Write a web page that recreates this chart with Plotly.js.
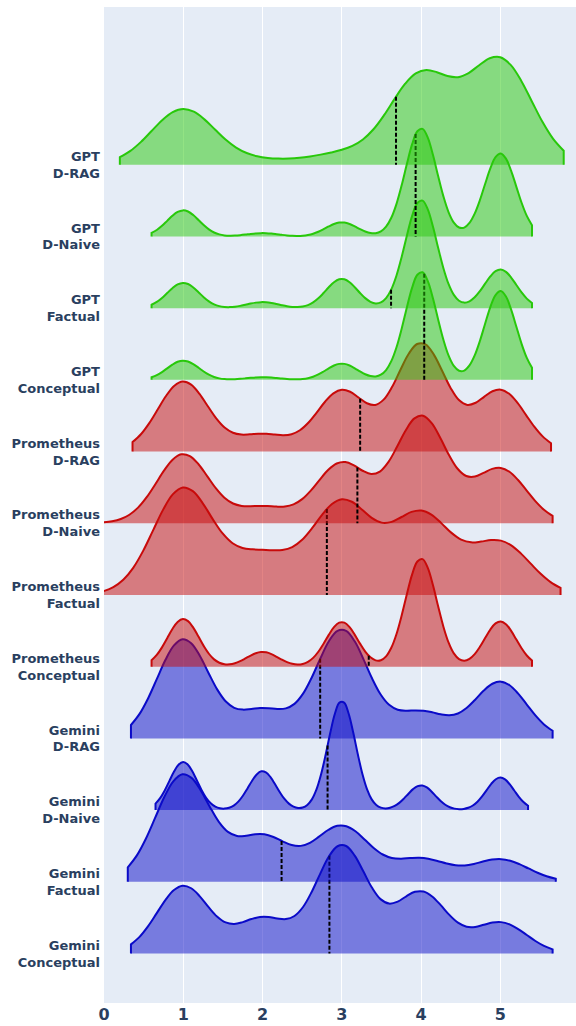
<!DOCTYPE html>
<html>
<head>
<meta charset="utf-8">
<script src="https://cdn.plot.ly/plotly-3.0.1.min.js"></script>
<style>html,body{margin:0;padding:0;background:#fff;}</style>
</head>
<body>
<div id="chart" style="width:576px;height:1026px;"></div>
<script>
// Score levels (0 = rare unparsed/zero scores)
const scores = [0, 1, 2, 3, 4, 5];

// Category labels, bottom to top
const categories = [
  'Gemini<br>Conceptual', 'Gemini<br>Factual', 'Gemini<br>D-Naive', 'Gemini<br>D-RAG',
  'Prometheus<br>Conceptual', 'Prometheus<br>Factual', 'Prometheus<br>D-Naive', 'Prometheus<br>D-RAG',
  'GPT<br>Conceptual', 'GPT<br>Factual', 'GPT<br>D-Naive', 'GPT<br>D-RAG'
];
const models = ['Gemini','Gemini','Gemini','Gemini','Prometheus','Prometheus','Prometheus','Prometheus','GPT','GPT','GPT','GPT'];

// Counts of each score (0..5) per category
const geminiConceptual   = [0, 199, 103, 318, 180, 91];
const geminiFactual      = [0, 321, 135, 166, 68, 67];
const geminiDNaive       = [0, 142, 115, 322, 73, 96];
const geminiDRAG         = [0, 294, 84, 322, 78, 168];
const prometheusConceptual = [0, 142, 44, 133, 322, 135];
const prometheusFactual  = [2, 319, 117, 276, 240, 156];
const prometheusDNaive   = [1, 207, 48, 180, 320, 163];
const prometheusDRAG     = [0, 207, 50, 180, 319, 181];
const gptConceptual      = [0, 57, 8, 48, 320, 263];
const gptFactual         = [0, 75, 18, 87, 321, 115];
const gptDNaive          = [0, 78, 10, 42, 323, 248];
const gptDRAG            = [0, 169, 14, 33, 270, 315];

const countsList = [geminiConceptual, geminiFactual, geminiDNaive, geminiDRAG,
  prometheusConceptual, prometheusFactual, prometheusDNaive, prometheusDRAG,
  gptConceptual, gptFactual, gptDNaive, gptDRAG];

// KDE bandwidths per category
const bandwidths = [0.33, 0.35, 0.175, 0.33, 0.2, 0.38, 0.33, 0.32, 0.2, 0.2, 0.2, 0.4];

// x-axis tick labels
const xTicks = [0, 1, 2, 3, 4, 5];

const modelColors = {
  GPT: 'rgb(40,200,10)',
  Prometheus: 'rgb(200,10,10)',
  Gemini: 'rgb(10,10,200)'
};

function expand(counts) {
  const out = [];
  counts.forEach((c, i) => { for (let k = 0; k < c; k++) out.push(scores[i]); });
  return out;
}

const traces = categories.map((cat, i) => {
  const xs = expand(countsList[i]);
  return {
    type: 'violin',
    orientation: 'h',
    x: xs,
    y: xs.map(() => cat),
    name: cat.replace('<br>', ' '),
    side: 'positive',
    width: 3,
    points: false,
    bandwidth: bandwidths[i],
    line: {color: modelColors[models[i]], width: 2},
    meanline: {visible: true, color: 'black', width: 2},
    box: {visible: false},
    hoverinfo: 'skip',
    showlegend: false
  };
});

const layout = {
  width: 576,
  height: 1026,
  margin: {l: 104, r: 0, t: 7, b: 23},
  paper_bgcolor: 'white',
  plot_bgcolor: '#e5ecf6',
  violinmode: 'overlay',
  showlegend: false,
  font: {family: 'DejaVu Sans, Verdana, sans-serif', color: '#2a3f5f'},
  xaxis: {
    range: [0, 5.955],
    tickvals: xTicks,
    ticktext: xTicks.map(String),
    showgrid: true,
    gridcolor: 'white',
    gridwidth: 1,
    zeroline: false,
    tickfont: {size: 16, weight: 'bold', color: '#2a3f5f'}
  },
  yaxis: {
    type: 'category',
    categoryorder: 'array',
    categoryarray: categories,
    range: [-0.69, 13.2],
    showgrid: false,
    zeroline: false,
    ticklabelstandoff: 3,
    tickfont: {size: 13, weight: 'bold', color: '#2a3f5f'}
  }
};

Plotly.newPlot('chart', traces, layout, {displayModeBar: false, staticPlot: true});
</script>
</body>
</html>
